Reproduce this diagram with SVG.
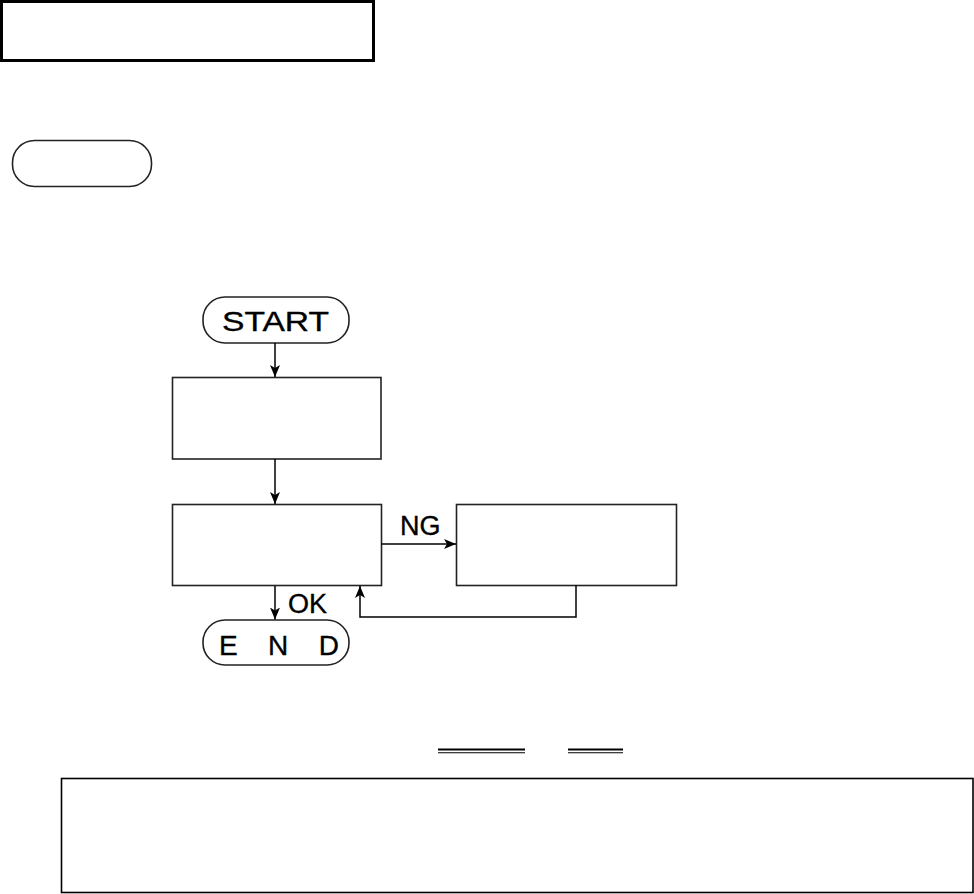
<svg xmlns="http://www.w3.org/2000/svg" width="974" height="894" viewBox="0 0 974 894">
<defs>
<style>
.box{fill:#fff;stroke:#222;stroke-width:1.6}
.thick{fill:#fff;stroke:#000;stroke-width:3}
.conn{fill:none;stroke:#000;stroke-width:1.5}
.lbl{font-family:"Liberation Sans",Arial,sans-serif;font-size:27px;fill:#000;stroke:#000;stroke-width:0.35}
</style>
<marker id="ah" viewBox="0 0 12 10" refX="12" refY="5" markerWidth="12" markerHeight="10" markerUnits="userSpaceOnUse" orient="auto">
<path d="M0,0 L12,5 L0,10 L3,5 Z" fill="#000"/>
</marker>
</defs>
<rect width="974" height="894" fill="#fff"/>
<g id="title-box"><rect class="thick" x="1.5" y="1.5" width="372" height="59"/></g>
<g id="pill-label"><rect class="box" x="12.5" y="140.5" width="139" height="46" rx="22" ry="22"/></g>
<g id="start"><rect class="box" x="203" y="297" width="146" height="46" rx="22" ry="22"/>
<text class="lbl" x="222" y="331" textLength="107" lengthAdjust="spacingAndGlyphs">START</text></g>
<g id="step1"><rect class="box" x="172.5" y="377.5" width="208.5" height="81.5"/></g>
<g id="check"><rect class="box" x="172.5" y="504.5" width="209" height="81"/></g>
<g id="fix"><rect class="box" x="456.5" y="504.5" width="220" height="81"/></g>
<g id="end"><rect class="box" x="203" y="620" width="146" height="45" rx="22" ry="22"/>
<text class="lbl" x="219" y="655" font-size="28" textLength="120" lengthAdjust="spacing" style="font-size:28px">E N D</text></g>
<g id="connectors">
<line class="conn" x1="275" y1="343" x2="275" y2="377" marker-end="url(#ah)"/>
<line class="conn" x1="275" y1="459" x2="275" y2="504" marker-end="url(#ah)"/>
<line class="conn" x1="381.5" y1="544" x2="456" y2="544" marker-end="url(#ah)"/>
<polyline class="conn" points="576,585.5 576,617 360,617 360,586" marker-end="url(#ah)"/>
<line class="conn" x1="275" y1="586" x2="275" y2="619.5" marker-end="url(#ah)"/>
<text class="lbl" x="400" y="535">NG</text>
<text class="lbl" x="288" y="613">OK</text>
</g>
<g id="underlines">
<line x1="438" y1="749.5" x2="525" y2="749.5" stroke="#000" stroke-width="1.8"/>
<line x1="438" y1="752.8" x2="525" y2="752.8" stroke="#000" stroke-width="1.1"/>
<line x1="568" y1="749.5" x2="623" y2="749.5" stroke="#000" stroke-width="1.8"/>
<line x1="568" y1="752.8" x2="623" y2="752.8" stroke="#000" stroke-width="1.1"/>
</g>
<g id="note-box"><rect class="box" x="61.5" y="778.5" width="911.5" height="114" style="stroke:#000;stroke-width:1.6"/></g>
</svg>
